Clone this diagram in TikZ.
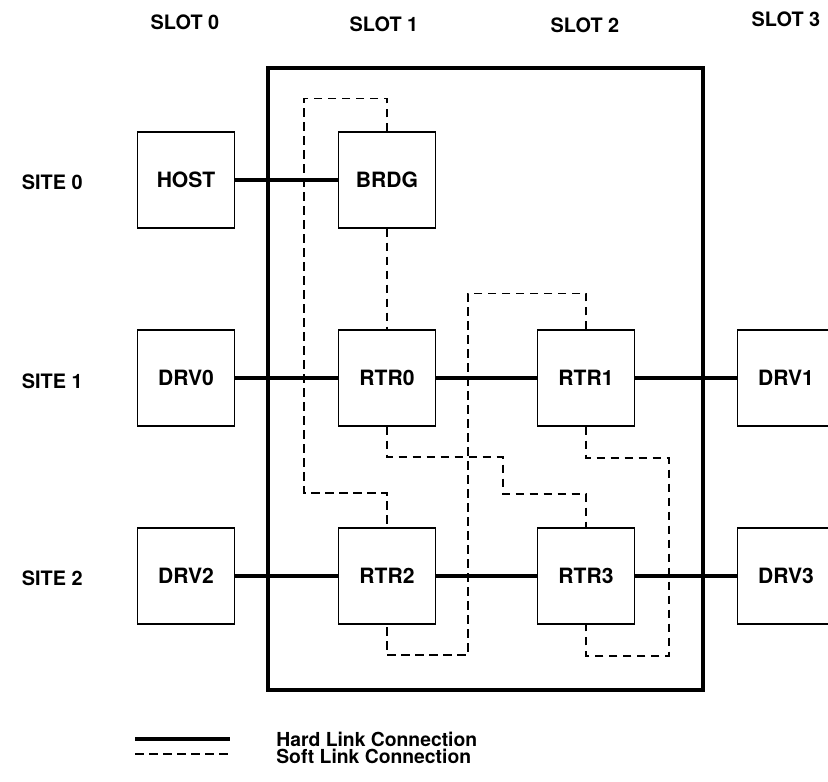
\documentclass[tikz,border=0pt]{standalone}
\usepackage{fontspec}
\setmainfont{TeX Gyre Heros}
\usepackage{tikz}
\usetikzlibrary{positioning, calc}

\begin{document}
\begin{tikzpicture}[
    unit/.style={rectangle, draw, line width=0.8pt, minimum width=1.94cm, minimum height=1.92cm, inner sep=0pt, font=\fontsize{12}{14}\selectfont\bfseries},
    label/.style={font=\fontsize{11.3}{13}\selectfont\bfseries, inner sep=0pt},
    chassis/.style={rectangle, draw, line width=2pt, minimum width=8.7cm, minimum height=12.44cm},
    hard/.style={line width=2pt},
    soft/.style={line width=0.6pt, dash pattern=on 0.17cm off 0.11cm}
]

\clip (0,0) rectangle (16.56,-15.64);

\node[chassis] (frame) at (9.71,-7.58) {};

\node[label] (slot0) at (3.70,-0.44) {SLOT 0};
\node[label] (slot1) at (7.68,-0.48) {SLOT 1};
\node[label] (slot2) at (11.70,-0.50) {SLOT 2};
\node[label] (slot3) at (15.72,-0.38) {SLOT 3};

\node[label, anchor=east] (site0) at (1.66,-3.64) {SITE 0};
\node[label, anchor=east] (site1) at (1.66,-7.62) {SITE 1};
\node[label, anchor=east] (site2) at (1.66,-11.56) {SITE 2};

\node[unit] (host) at (3.72,-3.60) {HOST};
\node[unit] (brdg) at (7.74,-3.60) {BRDG};

\node[unit] (drv0) at (3.72,-7.56) {DRV0};
\node[unit] (rtr0) at (7.74,-7.56) {RTR0};
\node[unit] (rtr1) at (11.72,-7.56) {RTR1};
\node[unit] (drv1) at (15.72,-7.56) {DRV1};

\node[unit] (drv2) at (3.72,-11.52) {DRV2};
\node[unit] (rtr2) at (7.74,-11.52) {RTR2};
\node[unit] (rtr3) at (11.72,-11.52) {RTR3};
\node[unit] (drv3) at (15.72,-11.52) {DRV3};

\draw[hard] (host) -- (brdg);
\draw[hard] (drv0) -- (rtr0);
\draw[hard] (rtr0) -- (rtr1);
\draw[hard] (rtr1) -- (drv1);
\draw[hard] (drv2) -- (rtr2);
\draw[hard] (rtr2) -- (rtr3);
\draw[hard] (rtr3) -- (drv3);

\draw[soft] (brdg.north) -- ++(0,0.66) -| (6.08,-9.86) -| (rtr2.north);
\draw[soft] (brdg.south) -- (rtr0.north);
\draw[soft] (rtr0.south) |- (10.06,-9.14) -- (10.06,-9.88) -| (rtr3.north);
\draw[soft] (rtr1.north) -- ++(0,0.72) -| (9.36,-13.10) -| (rtr2.south);
\draw[soft] (rtr1.south) |- (13.38,-9.16) -- (13.38,-13.12) -| (rtr3.south);

\coordinate (hardA) at (2.70,-14.78);
\coordinate (hardB) at (4.60,-14.78);
\coordinate (softA) at (2.70,-15.08);
\coordinate (softB) at (4.60,-15.08);
\draw[hard] (hardA) -- (hardB);
\draw[soft] (softA) -- (softB);
\node[label, anchor=west, font=\fontsize{11}{13}\selectfont\bfseries] (hardtext) at (5.52,-14.78) {Hard Link Connection};
\node[label, anchor=west, font=\fontsize{11}{13}\selectfont\bfseries] (softtext) at (5.52,-15.13) {Soft Link Connection};

\end{tikzpicture}
\end{document}
